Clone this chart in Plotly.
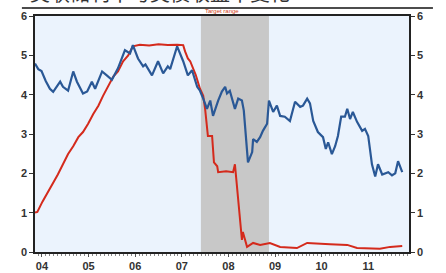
import plotly.graph_objects as go

# ---- data (decimal years, percent) ----
ust10_dates = [2004.35, 2004.42, 2004.49, 2004.58, 2004.67, 2004.74, 2004.89, 2004.95, 2005.06, 2005.17,
               2005.25, 2005.38, 2005.47, 2005.57, 2005.64, 2005.79, 2005.89, 2006.0, 2006.13, 2006.28,
               2006.39, 2006.45, 2006.56, 2006.67, 2006.72, 2006.86, 2006.99, 2007.10, 2007.20, 2007.25,
               2007.40, 2007.46, 2007.53, 2007.63, 2007.72, 2007.83, 2007.89, 2007.96, 2008.04, 2008.11,
               2008.17, 2008.28, 2008.36, 2008.43, 2008.47, 2008.53, 2008.64, 2008.71, 2008.79, 2008.83,
               2008.86, 2008.92, 2009.01, 2009.03, 2009.11, 2009.18, 2009.24, 2009.33, 2009.37, 2009.46,
               2009.54, 2009.61, 2009.71, 2009.82, 2009.93, 2010.04, 2010.10, 2010.19, 2010.25, 2010.32,
               2010.42, 2010.53, 2010.59, 2010.64, 2010.72, 2010.79, 2010.85, 2010.92, 2011.0, 2011.05,
               2011.11, 2011.17, 2011.26, 2011.37, 2011.43, 2011.50, 2011.58, 2011.65, 2011.71, 2011.80,
               2011.93, 2012.01, 2012.08, 2012.14, 2012.23]
ust10_values = [4.79, 4.65, 4.60, 4.35, 4.15, 4.07, 4.33, 4.20, 4.10, 4.59,
                4.33, 4.03, 4.08, 4.33, 4.15, 4.59, 4.49, 4.38, 4.67, 5.13,
                5.05, 5.26, 4.92, 4.72, 4.77, 4.49, 4.85, 4.54, 4.72, 4.65,
                5.23, 5.05, 4.85, 4.49, 4.62, 4.20, 4.10, 3.90, 3.64, 3.85,
                3.46, 3.85, 4.08, 4.20, 4.03, 4.10, 3.64, 3.90, 3.85, 3.60,
                3.20, 2.28, 2.54, 2.87, 2.80, 2.92, 3.08, 3.26, 3.85, 3.56,
                3.72, 3.46, 3.44, 3.33, 3.82, 3.69, 3.72, 3.90, 3.78, 3.33,
                3.05, 2.92, 2.62, 2.79, 2.49, 2.69, 2.95, 3.44, 3.44, 3.64,
                3.38, 3.56, 3.31, 3.08, 3.13, 2.95, 2.23, 1.92, 2.23, 1.97,
                2.03, 1.95, 2.00, 2.31, 2.03]

fed_dates = [2004.35, 2004.40, 2004.51, 2004.62, 2004.74, 2004.84, 2004.95, 2005.06, 2005.17, 2005.28,
             2005.38, 2005.49, 2005.60, 2005.71, 2005.81, 2005.92, 2006.03, 2006.13, 2006.24, 2006.35,
             2006.45, 2006.60, 2006.80, 2007.0, 2007.20, 2007.40, 2007.53, 2007.57, 2007.63, 2007.68,
             2007.74, 2007.80, 2007.89, 2007.96, 2008.0, 2008.04, 2008.06, 2008.15, 2008.17, 2008.19,
             2008.26, 2008.28, 2008.45, 2008.60, 2008.64, 2008.69, 2008.75, 2008.79, 2008.81, 2008.90,
             2009.03, 2009.18, 2009.39, 2009.61, 2009.97, 2010.19, 2010.68, 2011.05, 2011.26, 2011.54,
             2011.75, 2011.97, 2012.23]
fed_values = [1.00, 1.02, 1.28, 1.50, 1.77, 1.97, 2.23, 2.49, 2.69, 2.92,
              3.05, 3.26, 3.51, 3.72, 3.97, 4.20, 4.46, 4.59, 4.85, 5.00,
              5.23, 5.27, 5.25, 5.28, 5.26, 5.27, 5.26, 5.10, 4.92, 4.85,
              4.67, 4.50, 4.15, 3.97, 3.64, 3.13, 2.95, 2.95, 2.44, 2.28,
              2.18, 2.03, 2.05, 2.03, 2.23, 1.59, 0.90, 0.31, 0.51, 0.13,
              0.23, 0.18, 0.23, 0.13, 0.10, 0.23, 0.20, 0.18, 0.10, 0.08,
              0.08, 0.13, 0.15]

recession = [2007.91, 2009.37]
year_ticks = [2004.5, 2005.5, 2006.5, 2007.5, 2008.5, 2009.5, 2010.5, 2011.5]
year_labels = ["04", "05", "06", "07", "08", "09", "10", "11"]
y_ticks = [0, 1, 2, 3, 4, 5, 6]

fig = go.Figure()
fig.add_trace(go.Scatter(x=fed_dates, y=fed_values, mode="lines",
                         line=dict(color="#D42A1C", width=2), yaxis="y", hoverinfo="skip"))
fig.add_trace(go.Scatter(x=ust10_dates, y=ust10_values, mode="lines",
                         line=dict(color="#2A5896", width=2.2), yaxis="y2", hoverinfo="skip"))

tickfont = dict(family="Liberation Sans, Arial", size=11, color="#333333", weight="bold")

fig.update_layout(
    width=446, height=273,
    margin=dict(l=35, r=37, t=16, b=21, autoexpand=False),
    paper_bgcolor="white",
    plot_bgcolor="#EBF3FD",
    showlegend=False,
    xaxis=dict(range=[2004.35, 2012.375], tickvals=year_ticks, ticktext=year_labels,
               showgrid=False, zeroline=False, showline=True, linecolor="#222222", linewidth=1.5,
               mirror=True, ticks="outside", ticklen=3, tickcolor="#555555", automargin=False,
               minor=dict(tick0=2004.0, dtick=1/12, ticks="outside", ticklen=2, tickcolor="#888888"),
               tickfont=tickfont),
    yaxis=dict(range=[0, 6], tickvals=y_ticks, showgrid=False, zeroline=False, automargin=False,
               showline=True, linecolor="#222222", linewidth=1.5, ticks="outside", ticklen=4,
               tickcolor="#333333", tickfont=tickfont),
    yaxis2=dict(range=[0, 6], tickvals=y_ticks, overlaying="y", side="right", showgrid=False,
                zeroline=False, showline=True, linecolor="#222222", linewidth=1.5, ticks="outside",
                ticklen=4, tickcolor="#333333", tickfont=tickfont, automargin=False),
    shapes=[
        dict(type="rect", xref="x", yref="paper", x0=recession[0], x1=recession[1], y0=0, y1=1,
             fillcolor="#C8C8C8", line=dict(width=0), layer="below"),
        dict(type="line", xref="paper", yref="paper", x0=-0.035, x1=1.064, y0=1.034, y1=1.034,
             line=dict(color="#111111", width=1.5)),
    ],
    annotations=[
        dict(text="美联储利率与美债收益率变化", xref="paper", yref="paper", x=-0.02, y=1.03,
             xanchor="left", yanchor="bottom", showarrow=False,
             font=dict(family="Noto Sans CJK SC", size=20, color="#333333")),
        dict(text="Target range", xref="paper", yref="paper", x=0.5, y=1.0,
             xanchor="center", yanchor="bottom", showarrow=False,
             font=dict(family="Liberation Sans", size=6, color="#D04020")),
    ],
)

fig.write_html("out.html", config={"displayModeBar": False},
               post_script="document.body.style.margin='0px';document.body.style.overflow='hidden';")
